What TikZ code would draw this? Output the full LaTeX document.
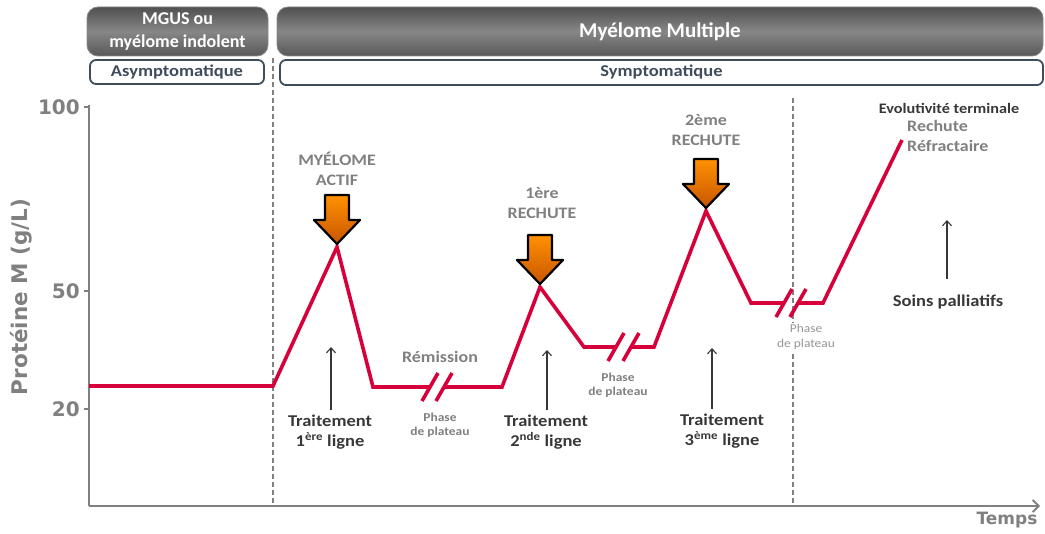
\documentclass[tikz,border=0pt]{standalone}
\usepackage{fontspec}
\setmainfont{Carlito}
\newfontfamily\etire[FakeStretch=1.12]{Carlito}
\newfontfamily\largefont{DejaVu Sans}
\usetikzlibrary{arrows.meta}

\definecolor{courbe}{RGB}{214,0,58}
\definecolor{grisaxe}{RGB}{128,128,128}
\definecolor{grisclair}{RGB}{150,150,150}
\definecolor{ardoise}{RGB}{62,76,92}
\definecolor{textefonce}{RGB}{55,55,55}
\definecolor{bandeauhaut}{RGB}{80,80,80}
\definecolor{bandeaumilieu}{RGB}{135,135,135}
\definecolor{bandeaubas}{RGB}{88,88,88}
\definecolor{orangehaut}{RGB}{255,145,0}
\definecolor{orangebas}{RGB}{200,85,0}

\tikzset{
    bandeau/.style={draw=bandeaumilieu, line width=0.8pt, rounded corners=11pt,
        top color=bandeauhaut, bottom color=bandeaubas, middle color=bandeaumilieu,
        text=white, align=center, inner sep=2pt,
        font=\bfseries\fontsize{18}{23}\selectfont},
    statut/.style={draw=ardoise, line width=1.8pt, rounded corners=6pt, fill=white,
        text=ardoise, inner sep=0pt, font=\etire\bfseries\fontsize{16.5}{18}\selectfont},
    separation/.style={grisaxe, dash pattern=on 5pt off 3pt, line width=1.3pt},
    axe/.style={grisaxe, line width=1.8pt},
    valeur/.style={text=grisaxe, font=\largefont\bfseries\fontsize{20}{24}\selectfont},
    evolution/.style={courbe, line width=3.6pt, line join=miter},
    gris/.style={text=grisaxe, align=center, font=\etire\bfseries\fontsize{16}{20}\selectfont},
    phase/.style={text=grisaxe, align=center, font=\etire\bfseries\fontsize{12}{14.5}\selectfont},
    fonce/.style={text=textefonce, align=center, inner sep=2pt, font=\etire\bfseries\fontsize{16.5}{20}\selectfont},
    fleche/.style={-{Straight Barb[length=5pt,width=9pt]}, textefonce, line width=1.1pt},
    bloc/.style={draw=black, line width=2.2pt, line join=round,
        top color=orangehaut, bottom color=orangebas}
}

\begin{document}
\begin{tikzpicture}[x=1pt, y=-1pt]
    \useasboundingbox (0,0) rectangle (1045,534);

    % bandeaux du haut
    \node[bandeau, minimum width=181pt, minimum height=49pt] (mgus) at (177.5,31.5) {MGUS ou\\myélome indolent};
    \node[bandeau, minimum width=766pt, minimum height=49pt, font=\bfseries\fontsize{21}{23}\selectfont] (mm) at (660,31.5) {Myélome Multiple};
    \node[statut, minimum width=174pt, minimum height=24pt] (asympto) at (177,72) {Asymptomatique};
    \node[statut, minimum width=763pt, minimum height=25pt] (sympto) at (661.5,72.5) {Symptomatique};

    % separations
    \draw[separation] (273,58) -- (273,505);
    \draw[separation] (793,98) -- (793,505);

    % axes
    \coordinate (haut) at (89,105);
    \coordinate (origine) at (89,506);
    \coordinate (fin) at (1040,506);
    \draw[axe] (haut) -- (origine);
    \draw[axe, -{Straight Barb[length=6pt,width=12pt]}] (origine) -- (fin);
    \foreach \v/\y in {100/107, 50/291, 20/409} {
        \draw[axe] (84,\y) -- (89,\y);
        \node[valeur, anchor=east, inner sep=1pt] (v\v) at (81,\y) {\v};
    }
    \node[valeur, rotate=90, font=\largefont\bfseries\fontsize{21.5}{24}\selectfont] (titre) at (21,297) {Protéine M (g/L)};
    \node[valeur, font=\largefont\bfseries\fontsize{17}{20}\selectfont] (temps) at (1007,520) {Temps};

    % courbe
    \coordinate (p0) at (89,386);
    \coordinate (p1) at (273,386);
    \coordinate (p2) at (337,247);
    \coordinate (p3) at (373,387);
    \coordinate (c1a) at (430,387);
    \coordinate (c1b) at (444,387);
    \coordinate (p4) at (502,387);
    \coordinate (p5) at (540,287);
    \coordinate (p6) at (584,347);
    \coordinate (c2a) at (616,347);
    \coordinate (c2b) at (631,347);
    \coordinate (p7) at (654,347);
    \coordinate (p8) at (706,211);
    \coordinate (p9) at (751,303);
    \coordinate (c3a) at (784,303);
    \coordinate (c3b) at (798,303);
    \coordinate (p10) at (823,303);
    \coordinate (p11) at (902,140);

    \draw[evolution] (p0) -- (p1) -- (p2) -- (p3) -- (c1a);
    \draw[evolution] (c1b) -- (p4) -- (p5) -- (p6) -- (c2a);
    \draw[evolution] (c2b) -- (p7) -- (p8) -- (p9) -- (c3a);
    \draw[evolution] (c3b) -- (p10) -- (p11);
    \foreach \c in {c1a, c1b, c2a, c2b, c3a, c3b}
        \draw[evolution] ([shift={(-8,14)}]\c) -- ([shift={(8,-14)}]\c);

    % fleches oranges
    \foreach \x/\y in {337/244, 540/284, 706/208}
        \path[bloc, shift={(\x,\y)}] (-12,-49) -- (12,-49) -- (12,-24) -- (23,-24)
            -- (0,0) -- (-23,-24) -- (-12,-24) -- cycle;

    % evenements
    \node[gris] (actif) at (337,169) {MYÉLOME\\ACTIF};
    \node[gris] (rechute1) at (542,203) {1ère\\RECHUTE};
    \node[gris] (rechute2) at (706,130) {2ème\\RECHUTE};
    \node[gris] (remission) at (440,357) {Rémission};
    \node[phase] (plateau1) at (440,425) {Phase\\de plateau};
    \node[phase] (plateau2) at (618,385) {Phase\\de plateau};
    \node[phase, fill=white, inner sep=1pt, text=grisclair, font=\etire\fontsize{12}{15}\selectfont] (plateau3) at (806,337) {Phase\\de plateau};

    % traitements
    \node[fonce] (trait1) at (330,432) {Traitement\\1\textsuperscript{ère} ligne};
    \node[fonce] (trait2) at (546,432) {Traitement\\2\textsuperscript{nde} ligne};
    \node[fonce] (trait3) at (722,431) {Traitement\\3\textsuperscript{ème} ligne};
    \node[fonce] (soins) at (948,302) {Soins palliatifs};
    \coordinate (h1) at (331,347);
    \coordinate (h2) at (547,350);
    \coordinate (h3) at (712,348);
    \coordinate (h4) at (947,220);
    \draw[fleche, shorten <=3pt] (trait1.north -| h1) -- (h1);
    \draw[fleche, shorten <=3pt] (trait2.north -| h2) -- (h2);
    \draw[fleche, shorten <=3pt] (trait3.north -| h3) -- (h3);
    \draw[fleche, shorten <=14pt] (soins.north -| h4) -- (h4);

    % phase terminale
    \node[fonce, font=\etire\bfseries\fontsize{14.5}{16}\selectfont] (evol) at (949,108) {Evolutivité terminale};
    \node[gris, anchor=north west, align=left, inner sep=0pt] (refract) at (907,120) {Rechute\\Réfractaire};
\end{tikzpicture}
\end{document}
